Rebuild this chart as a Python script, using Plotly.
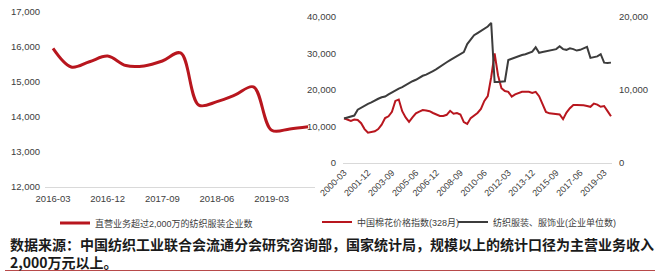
import plotly.graph_objects as go

W, H = 660, 274

# ---------------- Left chart data (quarterly) ----------------
left_quarters = ["2016-03", "2016-06", "2016-09", "2016-12", "2017-03", "2017-06", "2017-09",
                 "2017-12", "2018-03", "2018-06", "2018-09", "2018-12", "2019-03", "2019-06", "2019-09"]
left_counts = [15960, 15430, 15580, 15740, 15470, 15460, 15600,
               15830, 14340, 14440, 14630, 14860, 13620, 13660, 13720]
left_ticks = ["2016-03", "2016-12", "2017-09", "2018-06", "2019-03"]
left_yticks = [12000, 13000, 14000, 15000, 16000, 17000]

# ---------------- Right chart data (quarterly 2000-03 .. 2019-09) ----------------
right_quarters = [f"{y}-{m:02d}" for y in range(2000, 2020) for m in (3, 6, 9, 12)][:79]
cotton_index = [12250, 11970, 11500, 11900, 11800, 10900, 9300, 8300, 8500, 8700,
                9300, 10500, 12300, 12800, 14000, 17000, 17400, 14200, 12500, 11300,
                12500, 13600, 14100, 14500, 14400, 14200, 13700, 13300, 12900, 12900,
                13200, 14300, 13500, 13700, 13300, 11200, 10700, 12300, 13000, 13700,
                14800, 17000, 18300, 23500, 30000, 24000, 20500, 19700, 19500, 18200,
                18800, 19200, 19500, 19500, 19500, 19200, 19500, 18300, 16000, 14000,
                13600, 13500, 13400, 13300, 12000, 13800, 15000, 15900, 15900, 15900,
                15800, 15600, 15400, 16300, 16000, 15400, 15600, 14200, 12800]
textile_firms = [6100, 6200, 6400, 6500, 7300, 7600, 7800, 8100, 8300, 8600,
                 8800, 9000, 9100, 9400, 9700, 9950, 10200, 10400, 10700, 10950,
                 11200, 11400, 11700, 11950, 12100, 12400, 12600, 12850, 13200, 13500,
                 13800, 14100, 14400, 14700, 14900, 15200, 16300, 16900, 17500, 17800,
                 18100, 18300, 18700, 19200, 11100, 11100, 11150, 11200, 14100, 14300,
                 14500, 14650, 14800, 14900, 15100, 15250, 15850, 15100, 15200, 15300,
                 15400, 15500, 15600, 16000, 15600, 15500, 15700, 15600, 15400, 15500,
                 15700, 15900, 14400, 14500, 14600, 14900, 13750, 13700, 13750]
right_ticks = ["2000-03", "2001-12", "2003-09", "2005-06", "2006-12", "2008-09",
               "2010-06", "2012-03", "2013-12", "2015-09", "2017-06", "2019-03"]
right_left_yticks = [0, 10000, 20000, 30000, 40000]
right_right_yticks = [0, 10000, 20000]

caption_line1 = "数据来源：中国纺织工业联合会流通分会研究咨询部，国家统计局，规模以上的统计口径为主营业务收入"
caption_line2 = "2,000万元以上。"

RED = "#b8161e"
DARK = "#3c3c3c"
TXT = "#404040"
FONT = "Liberation Sans, Arial, Noto Sans CJK SC"


def px_x(p):
    return p / W


def px_y(p):
    return 1 - p / H


fig = go.Figure()
fig.add_trace(go.Scatter(x=left_quarters, y=left_counts, mode="lines",
                         line=dict(color=RED, width=3, shape="spline", smoothing=1.0),
                         name="直营业务超过2,000万的纺织服装企业数", xaxis="x", yaxis="y",
                         legend="legend"))
fig.add_trace(go.Scatter(x=right_quarters, y=cotton_index, mode="lines",
                         line=dict(color=RED, width=2),
                         name="中国棉花价格指数(328月)", xaxis="x2", yaxis="y2",
                         legend="legend2"))
fig.add_trace(go.Scatter(x=right_quarters, y=textile_firms, mode="lines",
                         line=dict(color=DARK, width=2),
                         name="纺织服装、服饰业(企业单位数)", xaxis="x2", yaxis="y3",
                         legend="legend3"))

tickfont = dict(family=FONT, size=9.5, color=TXT)
legfont = dict(family=FONT, size=9, color=TXT)

fig.update_layout(
    width=W, height=H,
    margin=dict(l=0, r=0, t=0, b=0, pad=0, autoexpand=False),
    paper_bgcolor="white", plot_bgcolor="white",
    font=dict(family=FONT, color=TXT),
    xaxis=dict(domain=[px_x(45), px_x(315)], type="category",
               categoryorder="array", categoryarray=left_quarters,
               range=[-0.44, 14.38], tickmode="array", tickvals=left_ticks,
               showgrid=False, zeroline=False, showline=True, linecolor="#d9d9d9",
               linewidth=1, ticks="", tickfont=tickfont, anchor="y", automargin=False,
               ticklabelstandoff=3),
    yaxis=dict(domain=[px_y(187), px_y(12)], range=[12000, 17000],
               tickvals=left_yticks, tickformat=",d", showgrid=False, zeroline=False,
               showline=False, ticks="", tickfont=tickfont, anchor="x",
               ticklabelstandoff=4, automargin=False),
    xaxis2=dict(domain=[px_x(343), px_x(612)], type="category",
                categoryorder="array", categoryarray=right_quarters,
                range=[-0.3, 78.3], tickmode="array", tickvals=right_ticks,
                tickangle=-45, showgrid=False, zeroline=False, showline=True,
                linecolor="#d9d9d9", linewidth=1, ticks="",
                tickfont=dict(family=FONT, size=9, color=TXT), anchor="y2", automargin=False),
    yaxis2=dict(domain=[px_y(163), px_y(17)], range=[0, 40000],
                tickvals=right_left_yticks, tickformat=",d", showgrid=False,
                zeroline=False, showline=False, ticks="", tickfont=tickfont,
                anchor="x2", ticklabelstandoff=6, automargin=False),
    yaxis3=dict(range=[0, 20000], overlaying="y2", side="right", anchor="x2",
                tickvals=right_right_yticks, tickformat=",d", showgrid=False,
                zeroline=False, showline=False, ticks="", tickfont=tickfont,
                ticklabelstandoff=6, automargin=False),
    legend=dict(orientation="h", x=px_x(55), xanchor="left", y=px_y(223), yanchor="middle",
                font=legfont, bgcolor="rgba(0,0,0,0)", itemwidth=30),
    legend2=dict(orientation="h", x=px_x(317), xanchor="left", y=px_y(222), yanchor="middle",
                 font=legfont, bgcolor="rgba(0,0,0,0)", itemwidth=30),
    legend3=dict(orientation="h", x=px_x(453), xanchor="left", y=px_y(222), yanchor="middle",
                 font=legfont, bgcolor="rgba(0,0,0,0)", itemwidth=30),
    showlegend=True,
)

capfont = dict(family="Noto Sans CJK SC", size=14, color="#1a1a1a", weight="bold")
fig.add_annotation(text=caption_line1, xref="paper", yref="paper", x=px_x(8), y=px_y(243.5),
                   xanchor="left", yanchor="middle", align="left", showarrow=False,
                   font=capfont)
fig.add_annotation(text=caption_line2, xref="paper", yref="paper", x=px_x(8), y=px_y(261.5),
                   xanchor="left", yanchor="middle", align="left", showarrow=False,
                   font=capfont)
fig.add_shape(type="line", xref="paper", yref="paper", x0=px_x(5), x1=px_x(655),
              y0=px_y(270.5), y1=px_y(270.5), line=dict(color="#b84a4a", width=1.2))

fig.write_html("out.html")
